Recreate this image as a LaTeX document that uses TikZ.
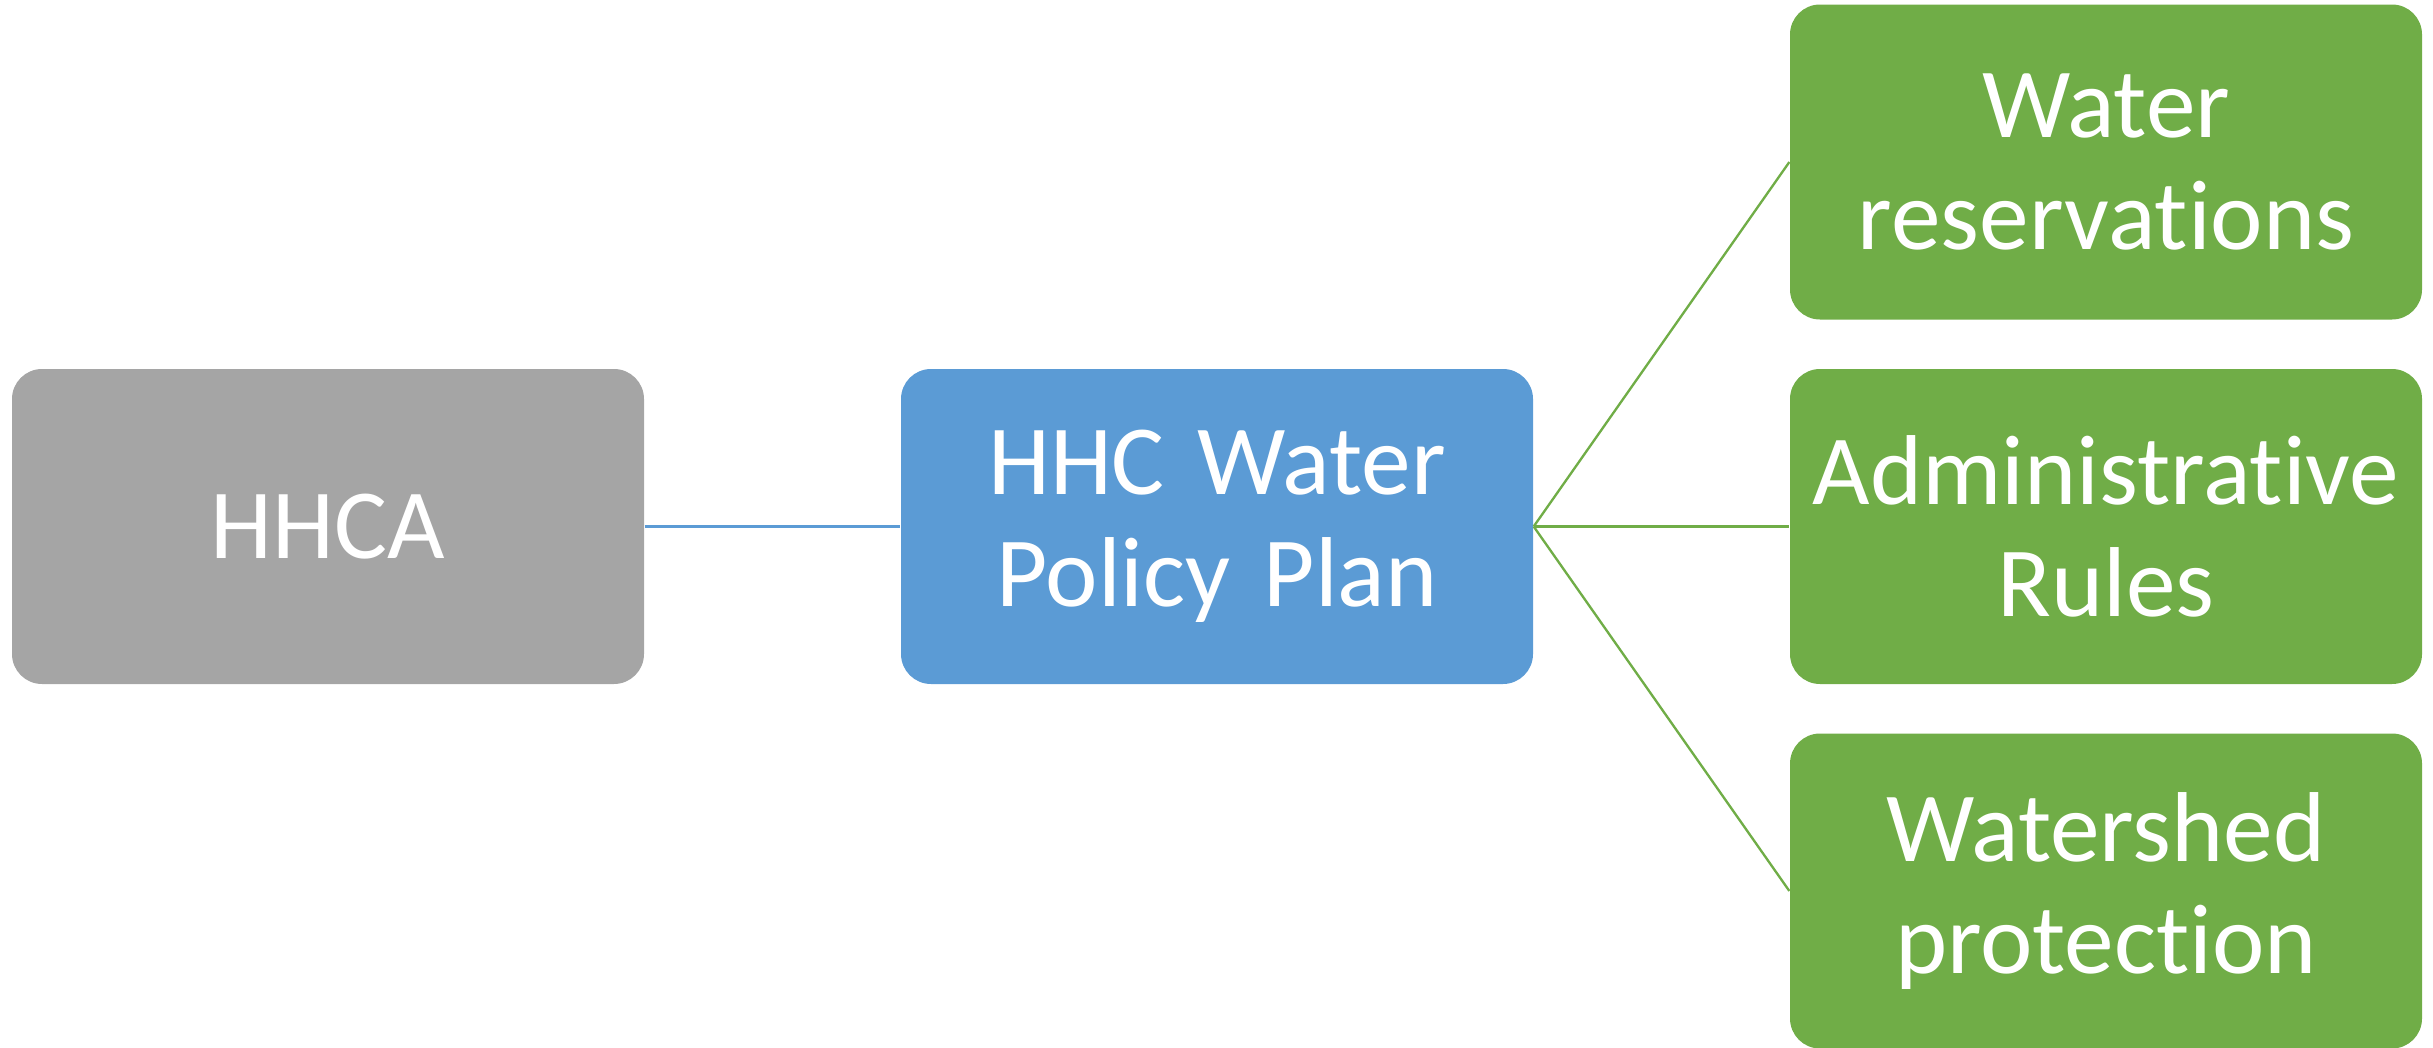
\documentclass[tikz,border=0pt]{standalone}
\usepackage{fontspec}
\setmainfont{Carlito}[Ligatures={NoCommon,NoRare,NoDiscretionary}]
\definecolor{boxgray}{HTML}{A5A5A5}
\definecolor{boxblue}{HTML}{5B9BD5}
\definecolor{boxgreen}{HTML}{70AD47}
\begin{document}
\begin{tikzpicture}[x=0.3pt,y=-0.3pt,
  box/.style={rectangle, rounded corners=9pt, minimum width=189.6pt, minimum height=94.5pt,
    inner sep=0pt, text=white, align=center, text width=185pt,
    font=\fontsize{29.8pt}{33.6pt}\selectfont},
  graybox/.style={box, fill=boxgray},
  bluebox/.style={box, fill=boxblue},
  greenbox/.style={box, fill=boxgreen},
  blueline/.style={draw=boxblue, line width=0.9pt},
  greenline/.style={draw=boxgreen, line width=0.7pt}]
\useasboundingbox (0,0) rectangle (2433,1047);
\node[graybox] (hhca) at (328,526.5) {HHCA};
\node[bluebox] (plan) at (1217,526.5) {HHC Water\\Policy Plan};
\node[greenbox] (res) at (2106,162) {Water\\reservations};
\node[greenbox] (adm) at (2106,526.5) {Administrative\\Rules};
\node[greenbox] (wsp) at (2106,891) {Watershed\\protection};
\draw[blueline] (hhca.east) -- (plan.west);
\draw[greenline] (plan.east) -- (res.west);
\draw[greenline] (plan.east) -- (adm.west);
\draw[greenline] (plan.east) -- (wsp.west);
\end{tikzpicture}
\end{document}
